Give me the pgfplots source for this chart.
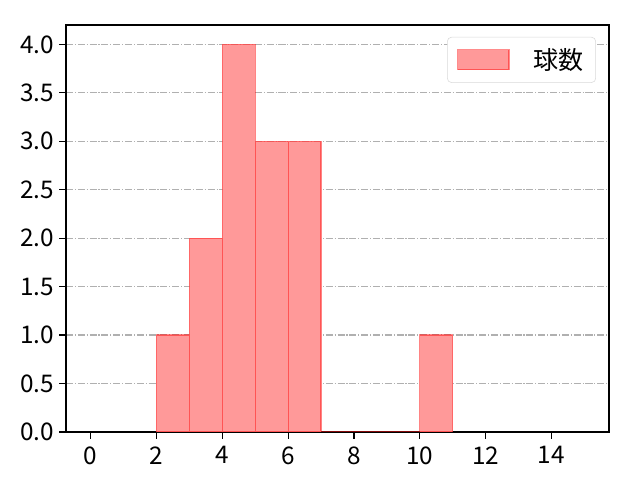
\documentclass[border=0pt]{standalone}
\usepackage{fontspec}
\setmainfont{Noto Sans CJK JP}
\usepackage{pgfplots}
\pgfplotsset{compat=1.18}
\usetikzlibrary{calc}

\definecolor{barfill}{RGB}{255,153,153}
\definecolor{baredge}{RGB}{255,0,0}
\definecolor{gridgray}{RGB}{176,176,176}

\begin{document}
\begin{tikzpicture}
\begin{axis}[name=ax,
    scale only axis, width=391pt, height=293pt,
    xmin=-0.75, xmax=15.75, ymin=0, ymax=4.2,
    xtick={0,2,...,14},
    ytick={0,0.5,...,4.0},
    yticklabel style={/pgf/number format/.cd,fixed,fixed zerofill,precision=1},
    xticklabel style={yshift=-2pt},
    /pgf/number format/assume math mode=true,
    tick align=outside, tick pos=left,
    major tick length=5pt,
    tick style={black, line width=0.8pt},
    axis line style={line width=0.8pt},
    ticklabel style={font=\fontsize{17.5}{20}\selectfont},
    ymajorgrids, grid style={gridgray, line width=0.8pt, dash pattern=on 5.1pt off 1.3pt on 0.8pt off 1.3pt},
    legend style={at={(1,1)}, xshift=-9.4pt, yshift=-8.6pt, anchor=north east,
        draw=gray!30, rounded corners=3pt,
        font=\fontsize{18}{20}\selectfont, inner xsep=7pt, inner ysep=6pt,
        legend cell align=left},
    legend image code/.code={\draw[#1, sharp corners] (0pt,-7.2pt) rectangle (37pt,7.2pt);},
    ]
\addplot[ybar interval, fill=barfill, draw=baredge, draw opacity=0.45, line width=0.8pt]
    coordinates {(2,1) (3,2) (4,4) (5,3) (6,3) (7,0) (8,0) (9,0) (10,1) (11,1)};
\addlegendentry{\hspace{15pt}球数}
\end{axis}
\path[use as bounding box] ($(ax.south west)+(-47.5pt,-34.6pt)$) rectangle ($(ax.north east)+(22.3pt,18pt)$);
\end{tikzpicture}
\end{document}
